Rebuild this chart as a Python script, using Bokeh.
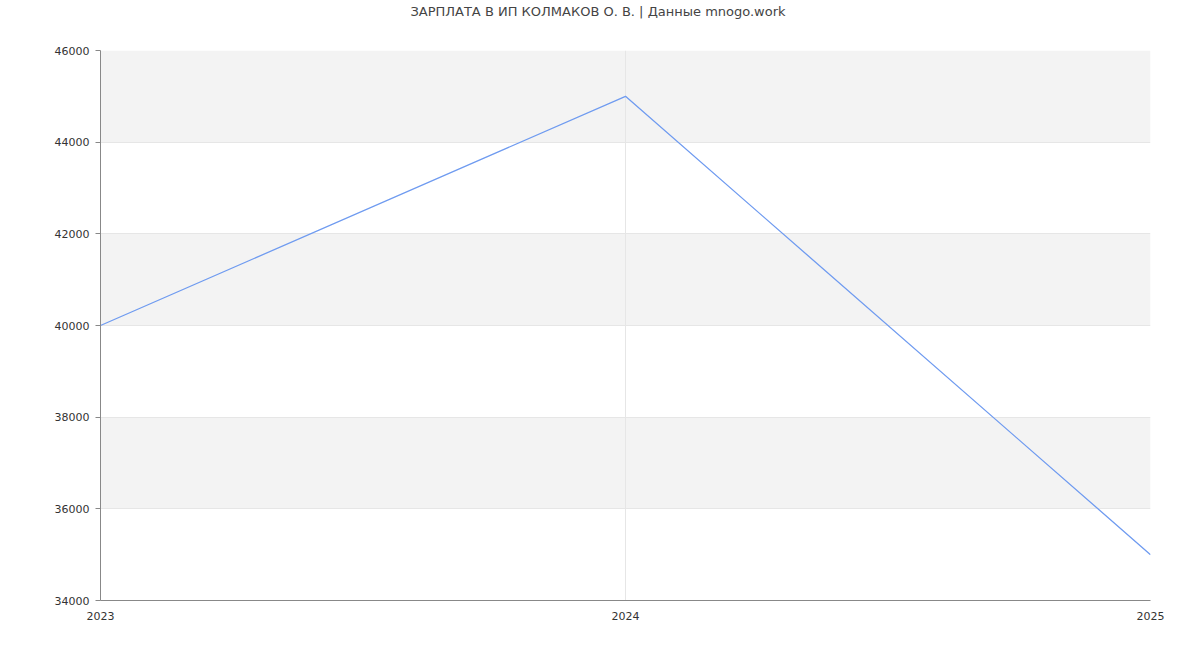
from bokeh.plotting import figure
from bokeh.models import BoxAnnotation, FixedTicker, Div
from bokeh.layouts import column
from bokeh.embed import file_html
from bokeh.resources import INLINE

years = [2023, 2024, 2025]
salary = [40000, 45000, 35000]
y_ticks = [34000, 36000, 38000, 40000, 42000, 44000, 46000]
band_starts = [36000, 40000, 44000]
band_height = 2000
title_text = "ЗАРПЛАТА В ИП КОЛМАКОВ О. В. | Данные mnogo.work"

FONT = "DejaVu Sans"

header = Div(text=title_text, width=1196, height=24, margin=(0, 0, 0, 0),
             styles={"text-align": "center", "line-height": "24px", "font-family": FONT,
                     "font-size": "13px", "color": "#444444", "width": "1196px"})

p = figure(width=1190, height=616, output_backend="svg", toolbar_location=None,
           x_range=(2023, 2025), y_range=(34000, 46000), margin=(0, 0, 0, 0),
           min_border_left=100, min_border_right=40, min_border_top=26, min_border_bottom=40)
p.title = None

p.outline_line_color = None
p.background_fill_color = "white"

for b in band_starts:
    p.add_layout(BoxAnnotation(bottom=b, top=b + band_height, fill_color="#f3f3f3",
                               fill_alpha=1.0, line_color=None, level="image"))

p.xaxis.ticker = FixedTicker(ticks=years)
p.yaxis.ticker = FixedTicker(ticks=y_ticks)
p.xaxis.major_tick_line_color = None
p.xaxis.minor_tick_line_color = None
p.yaxis.minor_tick_line_color = None
p.yaxis.major_tick_out = 5
p.yaxis.major_tick_in = 0
p.yaxis.major_tick_line_color = "#888888"
for ax in (p.xaxis, p.yaxis):
    ax.axis_line_color = "#888888"
    ax.major_label_text_font = FONT
    ax.major_label_text_font_size = "11px"
    ax.major_label_text_color = "#333333"
p.xaxis.major_label_standoff = 5
p.yaxis.major_label_standoff = 6
p.yaxis.formatter.use_scientific = False

p.xgrid.grid_line_color = "#e6e6e6"
p.ygrid.grid_line_color = "#e6e6e6"
p.xgrid.ticker = FixedTicker(ticks=years)
p.ygrid.ticker = FixedTicker(ticks=y_ticks)

p.line(years, salary, line_color="#6f9bf0", line_width=1.3)

layout = column(header, p, spacing=0)
open("out.html", "w").write(file_html(layout, INLINE))
